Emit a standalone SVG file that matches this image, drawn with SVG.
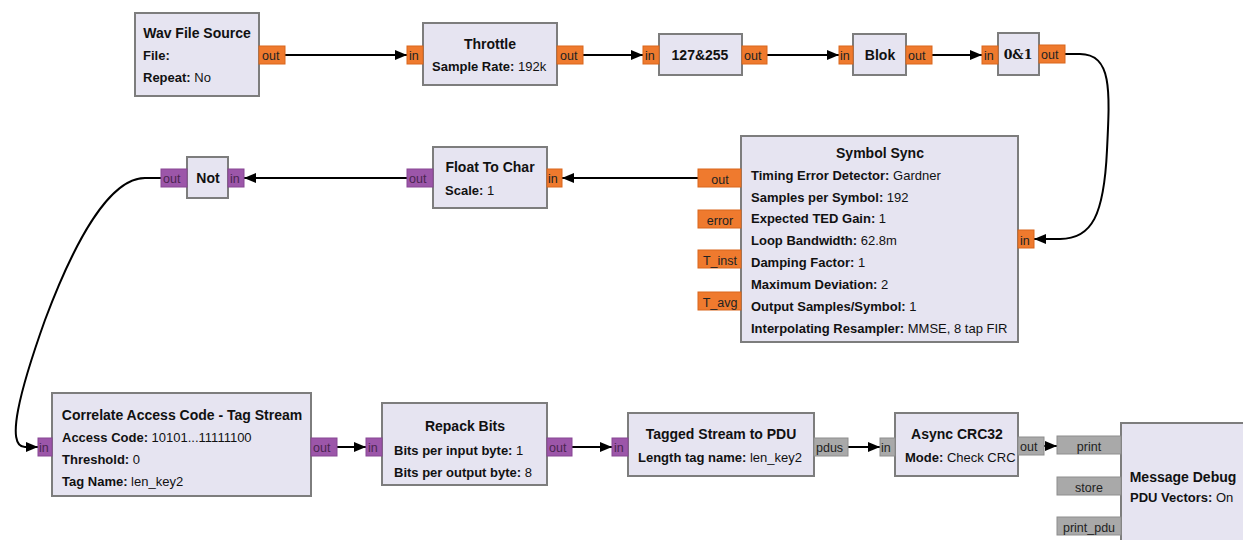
<svg xmlns="http://www.w3.org/2000/svg" width="1243" height="540" viewBox="0 0 1243 540">
  <style>
    .blk { fill: #e6e4f1; stroke: #7d7d7d; stroke-width: 2; }
    .po { fill: #ef7a2e; stroke: #d9661c; stroke-width: 1; }
    .pp { fill: #9c56a9; stroke: #874693; stroke-width: 1; }
    .pg { fill: #a9a9a9; stroke: #8e8e8e; stroke-width: 1; }
    text { font-family: "Liberation Sans", Arial, sans-serif; font-size: 13px; fill: #111; }
    .t { font-weight: bold; text-anchor: middle; font-size: 14px; }
    .b { font-weight: bold; }
    .pt { font-size: 12.5px; fill: #222; }
    .ptp { font-size: 12.5px; fill: #4a2550; }
    .mid { text-anchor: middle; }
    .serif { font-family: "DejaVu Serif", "Liberation Serif", serif; font-size: 12.5px; }
    .wire { fill: none; stroke: #000; stroke-width: 2; marker-end: url(#arr); }
  </style>
  <defs>
    <marker id="arr" viewBox="0 0 12 10" refX="12" refY="5" markerWidth="12" markerHeight="10" markerUnits="userSpaceOnUse" orient="auto">
      <path d="M0,0 L12,5 L0,10 Z" fill="#000"/>
    </marker>
  </defs>

  <rect width="1243" height="540" fill="#fff"/>

  <!-- connectors -->
  <g id="connectors">
    <path class="wire" d="M285,55 L407,55"/>
    <path class="wire" d="M583,55 L643,55"/>
    <path class="wire" d="M767,55 L839,55"/>
    <path class="wire" d="M932,55 L982,55"/>
    <path class="wire" d="M1065,54 L1080,54 C1112,54 1110,90 1107,150 C1104,215 1092,239 1060,239 L1034,239"/>
    <path class="wire" d="M698,178 L562,178"/>
    <path class="wire" d="M407,178 L244,178"/>
    <path class="wire" d="M162,178 L145,178 C110,178 75,240 45,320 C20,390 5,447 25,447 L38,447"/>
    <path class="wire" d="M337,447 L366,447"/>
    <path class="wire" d="M572,447 L612,447"/>
    <path class="wire" d="M848,447 L880,447"/>
    <path class="wire" d="M1044,446 L1057,446"/>
  </g>

  <!-- Wav File Source -->
  <g id="wav_file_source">
    <rect class="blk" x="135" y="13" width="124" height="83"/>
    <text class="t" x="197" y="38">Wav File Source</text>
    <text class="b" x="143" y="60">File:</text>
    <text x="143" y="82"><tspan class="b">Repeat:</tspan> No</text>
    <rect class="po" x="259" y="46" width="26" height="18"/>
    <text class="pt" x="262" y="60">out</text>
  </g>

  <!-- Throttle -->
  <g id="throttle">
    <rect class="blk" x="423" y="23" width="134" height="62"/>
    <text class="t" x="490" y="49">Throttle</text>
    <text x="432" y="71"><tspan class="b">Sample Rate:</tspan> 192k</text>
    <rect class="po" x="407" y="46" width="16" height="18"/>
    <text class="pt" x="409" y="60">in</text>
    <rect class="po" x="557" y="46" width="26" height="18"/>
    <text class="pt" x="560" y="60">out</text>
  </g>

  <!-- 127&255 -->
  <g id="mask_127_255">
    <rect class="blk" x="659" y="34" width="83" height="41"/>
    <text class="t" x="700" y="60">127&amp;255</text>
    <rect class="po" x="643" y="46" width="16" height="18"/>
    <text class="pt" x="645" y="60">in</text>
    <rect class="po" x="742" y="46" width="25" height="18"/>
    <text class="pt" x="744" y="60">out</text>
  </g>

  <!-- Blok -->
  <g id="blok">
    <rect class="blk" x="853" y="34" width="53" height="41"/>
    <text class="t" x="880" y="60">Blok</text>
    <rect class="po" x="839" y="46" width="14" height="18"/>
    <text class="pt" x="840" y="60">in</text>
    <rect class="po" x="906" y="46" width="26" height="18"/>
    <text class="pt" x="908" y="60">out</text>
  </g>

  <!-- 0&1 -->
  <g id="zero_one">
    <rect class="blk" x="998" y="33" width="41" height="42"/>
    <text class="t serif" x="1018" y="59">0&amp;1</text>
    <rect class="po" x="982" y="46" width="16" height="18"/>
    <text class="pt" x="984" y="60">in</text>
    <rect class="po" x="1039" y="45" width="26" height="18"/>
    <text class="pt" x="1041" y="59">out</text>
  </g>

  <!-- Symbol Sync -->
  <g id="symbol_sync">
    <rect class="blk" x="741" y="136" width="277" height="206"/>
    <text class="t" x="880" y="158">Symbol Sync</text>
    <text x="751" y="180"><tspan class="b">Timing Error Detector:</tspan> Gardner</text>
    <text x="751" y="202"><tspan class="b">Samples per Symbol:</tspan> 192</text>
    <text x="751" y="223"><tspan class="b">Expected TED Gain:</tspan> 1</text>
    <text x="751" y="245"><tspan class="b">Loop Bandwidth:</tspan> 62.8m</text>
    <text x="751" y="267"><tspan class="b">Damping Factor:</tspan> 1</text>
    <text x="751" y="289"><tspan class="b">Maximum Deviation:</tspan> 2</text>
    <text x="751" y="311"><tspan class="b">Output Samples/Symbol:</tspan> 1</text>
    <text x="751" y="333"><tspan class="b">Interpolating Resampler:</tspan> MMSE, 8 tap FIR</text>
    <rect class="po" x="698" y="169" width="43" height="18"/>
    <text class="pt mid" x="720" y="184">out</text>
    <rect class="po" x="698" y="210" width="43" height="18"/>
    <text class="pt mid" x="720" y="225">error</text>
    <rect class="po" x="698" y="250" width="43" height="18"/>
    <text class="pt mid" x="720" y="265">T_inst</text>
    <rect class="po" x="698" y="292" width="43" height="18"/>
    <text class="pt mid" x="720" y="307">T_avg</text>
    <rect class="po" x="1018" y="230" width="16" height="18"/>
    <text class="pt" x="1020" y="245">in</text>
  </g>

  <!-- Float To Char -->
  <g id="float_to_char">
    <rect class="blk" x="433" y="147" width="114" height="61"/>
    <text class="t" x="490" y="172">Float To Char</text>
    <text x="445" y="195"><tspan class="b">Scale:</tspan> 1</text>
    <rect class="po" x="547" y="169" width="15" height="18"/>
    <text class="pt" x="548" y="183">in</text>
    <rect class="pp" x="407" y="169" width="26" height="18"/>
    <text class="ptp" x="409" y="183">out</text>
  </g>

  <!-- Not -->
  <g id="not">
    <rect class="blk" x="187" y="157" width="41" height="41"/>
    <text class="t" x="208" y="183">Not</text>
    <rect class="pp" x="228" y="169" width="16" height="18"/>
    <text class="ptp" x="230" y="183">in</text>
    <rect class="pp" x="161" y="169" width="26" height="18"/>
    <text class="ptp" x="163" y="183">out</text>
  </g>

  <!-- Correlate Access Code - Tag Stream -->
  <g id="correlate_access_code">
    <rect class="blk" x="52" y="393" width="259" height="103"/>
    <text class="t" x="182" y="420">Correlate Access Code - Tag Stream</text>
    <text x="62" y="442"><tspan class="b">Access Code:</tspan> 10101...11111100</text>
    <text x="62" y="464"><tspan class="b">Threshold:</tspan> 0</text>
    <text x="62" y="486"><tspan class="b">Tag Name:</tspan> len_key2</text>
    <rect class="pp" x="38" y="438" width="14" height="18"/>
    <text class="ptp" x="39" y="452">in</text>
    <rect class="pp" x="311" y="438" width="26" height="18"/>
    <text class="ptp" x="313" y="452">out</text>
  </g>

  <!-- Repack Bits -->
  <g id="repack_bits">
    <rect class="blk" x="382" y="403" width="165" height="82"/>
    <text class="t" x="465" y="431">Repack Bits</text>
    <text x="394" y="455"><tspan class="b">Bits per input byte:</tspan> 1</text>
    <text x="394" y="477"><tspan class="b">Bits per output byte:</tspan> 8</text>
    <rect class="pp" x="366" y="438" width="16" height="18"/>
    <text class="ptp" x="368" y="452">in</text>
    <rect class="pp" x="547" y="438" width="25" height="18"/>
    <text class="ptp" x="549" y="452">out</text>
  </g>

  <!-- Tagged Stream to PDU -->
  <g id="tagged_stream_to_pdu">
    <rect class="blk" x="628" y="413" width="186" height="63"/>
    <text class="t" x="721" y="439">Tagged Stream to PDU</text>
    <text x="638" y="462"><tspan class="b">Length tag name:</tspan> len_key2</text>
    <rect class="pp" x="612" y="438" width="16" height="18"/>
    <text class="ptp" x="614" y="452">in</text>
    <rect class="pg" x="814" y="438" width="34" height="18"/>
    <text class="pt" x="816" y="452">pdus</text>
  </g>

  <!-- Async CRC32 -->
  <g id="async_crc32">
    <rect class="blk" x="895" y="413" width="123" height="63"/>
    <text class="t" x="957" y="439">Async CRC32</text>
    <text x="905" y="462"><tspan class="b">Mode:</tspan> Check CRC</text>
    <rect class="pg" x="880" y="438" width="15" height="18"/>
    <text class="pt" x="881" y="452">in</text>
    <rect class="pg" x="1018" y="437" width="26" height="18"/>
    <text class="pt" x="1020" y="451">out</text>
  </g>

  <!-- Message Debug -->
  <g id="message_debug">
    <rect class="blk" x="1121" y="423" width="130" height="130"/>
    <text class="t" x="1183" y="482">Message Debug</text>
    <text x="1130" y="502"><tspan class="b">PDU Vectors:</tspan> On</text>
    <rect class="pg" x="1057" y="436" width="64" height="18"/>
    <text class="pt mid" x="1089" y="451">print</text>
    <rect class="pg" x="1057" y="477" width="64" height="18"/>
    <text class="pt mid" x="1089" y="492">store</text>
    <rect class="pg" x="1057" y="517" width="64" height="18"/>
    <text class="pt mid" x="1089" y="532">print_pdu</text>
  </g>
</svg>
